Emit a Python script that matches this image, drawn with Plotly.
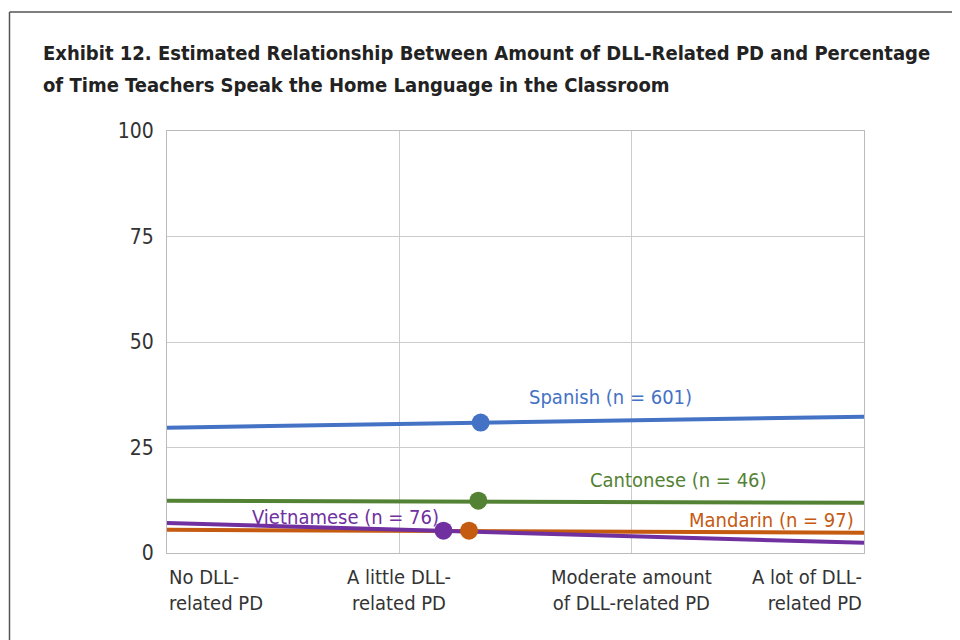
import plotly.graph_objects as go

categories = ["No DLL-<br>related PD", "A little DLL-<br>related PD",
              "Moderate amount<br>of DLL-related PD", "A lot of DLL-<br>related PD"]
series = ["Spanish", "Cantonese", "Mandarin", "Vietnamese"]
n_values = [601, 46, 97, 76]
line_start = [29.7, 12.4, 5.5, 7.1]
line_end = [32.3, 11.9, 4.8, 2.4]
marker_x = [1.35, 1.34, 1.30, 1.19]
marker_y = [30.9, 12.4, 5.3, 5.3]
label_x = [1.91, 2.20, 2.60, 0.77]
label_y = [37.0, 17.3, 7.8, 8.6]
colors = ["#4472C4", "#548235", "#C55A11", "#7030A0"]
y_ticks = [0, 25, 50, 75, 100]
title_lines = ["Exhibit 12. Estimated Relationship Between Amount of DLL-Related PD and Percentage",
               "of Time Teachers Speak the Home Language in the Classroom"]

FONT = "DejaVu Sans Condensed, Liberation Sans Narrow, sans-serif"

# page offset compensation (body margin)
OFF = 8
L, R, T, B = 167 - OFF, 96 + OFF, 131 - OFF, 87 + OFF
PW, PH = 960 - L - R, 640 - T - B


def px_x(x):
    return (x - OFF - L) / PW


def px_y(y):
    return 1 - (y - OFF - T) / PH


fig = go.Figure()
for i in range(4):
    fig.add_trace(go.Scatter(x=[0, 3], y=[line_start[i], line_end[i]], mode="lines",
                             line=dict(color=colors[i], width=4), showlegend=False,
                             hoverinfo="skip"))
for i in range(4):
    fig.add_trace(go.Scatter(x=[marker_x[i]], y=[marker_y[i]], mode="markers",
                             marker=dict(color=colors[i], size=18), showlegend=False))

anns = []
for i in range(4):
    anns.append(dict(x=label_x[i], y=label_y[i], xref="x", yref="y",
                     text=f"{series[i]} (n = {n_values[i]})", showarrow=False,
                     font=dict(family=FONT, size=20, color=colors[i])))

aligns = ["left", "center", "center", "right"]
for i, c in enumerate(categories):
    anns.append(dict(x=i, y=0, xref="x", yref="paper", yanchor="top", yshift=-10,
                     text=c, showarrow=False, align=aligns[i], xanchor=aligns[i],
                     font=dict(family=FONT, size=20, color="#333333")))

for j, (t, yc) in enumerate(zip(title_lines, [53, 85])):
    anns.append(dict(x=px_x(41), y=px_y(yc), xref="paper", yref="paper",
                     xanchor="left", yanchor="middle", text=f"<b>{t}</b>", showarrow=False,
                     font=dict(family=FONT, size=20, color="#222222")))

fig.update_layout(
    width=960, height=640,
    margin=dict(l=L, r=R, t=T, b=B),
    paper_bgcolor="white", plot_bgcolor="white",
    xaxis=dict(range=[0, 3], tickvals=[0, 1, 2, 3], showticklabels=False,
               showgrid=True, gridcolor="#CCCCCC", gridwidth=1, zeroline=False,
               showline=True, linecolor="#BBBBBB", mirror=True, fixedrange=True),
    yaxis=dict(range=[0, 100], tickvals=y_ticks, showgrid=True, gridcolor="#CCCCCC",
               gridwidth=1, zeroline=False, showline=True, linecolor="#BBBBBB",
               mirror=True, ticks="", ticklabelstandoff=8,
               tickfont=dict(family=FONT, size=21, color="#333333")),
    annotations=anns,
    shapes=[
        dict(type="line", xref="paper", yref="paper", x0=px_x(9.5), x1=px_x(980),
             y0=px_y(12), y1=px_y(12), line=dict(color="#555555", width=1.5)),
        dict(type="line", xref="paper", yref="paper", x0=px_x(9.5), x1=px_x(9.5),
             y0=px_y(12), y1=px_y(660), line=dict(color="#555555", width=1.5)),
    ],
)
fig.write_html("out.html")
